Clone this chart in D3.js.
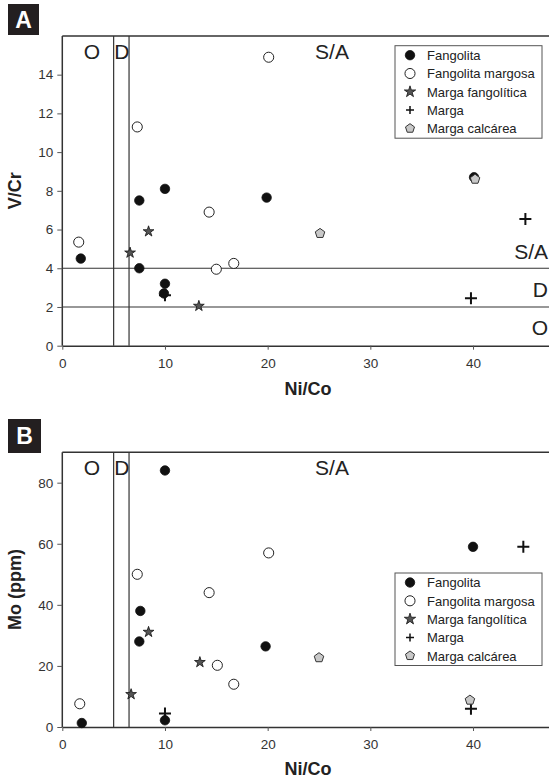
<!DOCTYPE html>
<html><head><meta charset="utf-8">
<script src="https://cdn.jsdelivr.net/npm/d3@7"></script>
<style>body{margin:0;background:#fff;} svg{display:block;font-family:"Liberation Sans",Arial,sans-serif;}</style>
</head><body>
<script>
// ---- Data ----
const seriesNames = ["Fangolita","Fangolita margosa","Marga fangolítica","Marga","Marga calcárea"];
const xTicks = [0,10,20,30,40];
const yTicksA = [0,2,4,6,8,10,12,14];
const yTicksB = [0,20,40,60,80];
const niCoLimits = [5,6.5];
const vCrLimits = [2,4];
// Panel A: Ni/Co vs V/Cr
const fangolitaA = [[1.8,4.5],[7.5,4.0],[7.5,7.5],[10.0,8.1],[10.0,3.2],[9.9,2.7],[19.9,7.65],[40.1,8.7]];
const margosaA   = [[1.6,5.35],[7.3,11.3],[20.1,14.9],[14.3,6.9],[15.0,3.95],[16.7,4.25]];
const fangoliticaA = [[6.6,4.8],[8.4,5.9],[13.3,2.05]];
const margaA     = [[10.0,2.6],[45.1,6.55],[39.8,2.45]];
const calcareaA  = [[25.1,5.8],[40.2,8.6]];
// Panel B: Ni/Co vs Mo (ppm)
const fangolitaB = [[1.9,1.3],[10.0,84],[7.6,38],[7.5,28],[10.0,2.2],[19.8,26.4],[40.0,59]];
const margosaB   = [[1.7,7.6],[7.3,50],[14.3,44],[20.1,57],[15.1,20.2],[16.7,14]];
const fangoliticaB = [[6.7,10.7],[8.4,31.1],[13.4,21.2]];
const margaB     = [[10.0,4.4],[44.9,59],[39.8,6.0]];
const calcareaB  = [[25.0,22.7],[39.7,8.8]];

const W=549,H=779;
const svg=d3.select("body").append("svg").attr("width",W).attr("height",H);

const plus = {draw(ctx,size){const r=Math.sqrt(size)/2;ctx.moveTo(-r,0);ctx.lineTo(r,0);ctx.moveTo(0,-r);ctx.lineTo(0,r);}};
const pentagon = {draw(ctx,size){const r=Math.sqrt(size)/2;for(let i=0;i<5;i++){const a=-Math.PI/2+i*2*Math.PI/5;const px=r*Math.cos(a),py=r*Math.sin(a);i?ctx.lineTo(px,py):ctx.moveTo(px,py);}ctx.closePath();}};

const styles = [
  {type:d3.symbolCircle,size:70,fill:"#111",stroke:"#111",sw:0.8},
  {type:d3.symbolCircle,size:80,fill:"#fff",stroke:"#222",sw:1},
  {type:d3.symbolStar,size:36,fill:"#555",stroke:"#111",sw:0.8},
  {type:plus,size:144,fill:"none",stroke:"#111",sw:2},
  {type:pentagon,size:100,fill:"#c8c8c8",stroke:"#333",sw:1}
];
const legendSizes=[70,80,40,64,90];

function panel(cfg){
  const x=d3.scaleLinear().domain([0,47.4]).range([62.3,549]);
  const y=d3.scaleLinear().domain(cfg.ydom).range(cfg.yrange);
  const g=svg.append("g");
  // label box
  g.append("rect").attr("x",cfg.box[0]).attr("y",cfg.box[1]).attr("width",cfg.box[2]).attr("height",cfg.box[3]).attr("fill","#231f20");
  g.append("text").attr("x",cfg.box[0]+cfg.box[2]/2).attr("y",cfg.box[1]+cfg.box[3]/2+8).attr("text-anchor","middle")
    .attr("fill","#fff").attr("font-weight","bold").attr("font-size",23).text(cfg.letter);
  // top border
  g.append("line").attr("x1",x(0)).attr("x2",W).attr("y1",y(cfg.ydom[1])).attr("y2",y(cfg.ydom[1])).attr("stroke","#333").attr("stroke-width",1.5);
  // axes
  const xa=g.append("g").attr("transform",`translate(0,${y(0)})`).call(d3.axisBottom(x).tickValues(xTicks).tickSize(4).tickPadding(8.5).tickSizeOuter(0));
  const ya=g.append("g").attr("transform",`translate(${x(0)},0)`).call(d3.axisLeft(y).tickValues(cfg.yticks).tickSize(5).tickPadding(4).tickSizeOuter(0));
  [xa,ya].forEach(a=>{a.select(".domain").attr("stroke","#333").attr("stroke-width",1.5);
    a.selectAll(".tick line").attr("stroke","#555");
    a.selectAll("text").attr("font-size",13.5).attr("fill","#333").attr("font-family","Liberation Sans, Arial, sans-serif");});
  ya.select(".domain").attr("d",`M0,${y(0)}V${y(cfg.ydom[1])}`);
  // limit lines
  niCoLimits.forEach(v=>g.append("line").attr("x1",x(v)).attr("x2",x(v)).attr("y1",y(0)).attr("y2",y(cfg.ydom[1])).attr("stroke","#333").attr("stroke-width",1.2));
  (cfg.hlines||[]).forEach(v=>g.append("line").attr("x1",x(0)).attr("x2",W).attr("y1",y(v)).attr("y2",y(v)).attr("stroke","#333").attr("stroke-width",1.2));
  // zone labels
  const zy=y(cfg.ydom[1])+23;
  const zt=(tx,ty,t,anchor)=>g.append("text").attr("x",tx).attr("y",ty).attr("text-anchor",anchor||"middle").attr("font-size",21).attr("fill","#222").text(t);
  zt((x(0)+x(5))/2+4,zy,"O");
  zt((x(5)+x(6.5))/2+0.5,zy,"D");
  zt(332,zy,"S/A");
  if(cfg.hlines){
    zt(548,y(4)-9,"S/A","end");
    zt(548,y(2)-9.5,"D","end");
    zt(548,y(0)-10.5,"O","end");
  }
  // axis titles
  g.append("text").attr("x",308).attr("y",cfg.xtitleY).attr("text-anchor","middle").attr("font-weight","bold").attr("font-size",18).attr("fill","#222").text("Ni/Co");
  g.append("text").attr("transform",`translate(21,${(y(0)+y(cfg.ydom[1]))/2}) rotate(-90)`).attr("text-anchor","middle").attr("font-weight","bold").attr("font-size",18).attr("fill","#222").text(cfg.ytitle);
  // points
  cfg.series.forEach((data,i)=>{
    const s=styles[i];
    g.append("g").selectAll("path").data(data).join("path")
      .attr("transform",d=>`translate(${x(d[0])},${y(d[1])})`)
      .attr("d",d3.symbol(s.type,s.size)).attr("fill",s.fill).attr("stroke",s.stroke).attr("stroke-width",s.sw);
  });
  // legend
  const L=cfg.legend;
  g.append("rect").attr("x",L[0]).attr("y",L[1]).attr("width",147).attr("height",92.5).attr("fill","#fff").attr("stroke","#555").attr("stroke-width",1);
  seriesNames.forEach((n,i)=>{
    const s=styles[i];const ly=L[1]+9.5+i*18.3;
    g.append("path").attr("transform",`translate(${L[0]+15},${ly})`).attr("d",d3.symbol(s.type,legendSizes[i]))
      .attr("fill",s.fill).attr("stroke",s.stroke).attr("stroke-width",i===3?1.5:s.sw);
    g.append("text").attr("x",L[0]+32).attr("y",ly+4.8).attr("font-size",13).attr("fill","#222").text(n);
  });
}

panel({letter:"A",box:[8,4,31,31],ydom:[0,16],yrange:[345.7,345.7-16*19.36],yticks:yTicksA,hlines:vCrLimits,
  xtitleY:395,ytitle:"V/Cr",legend:[395,45.7],
  series:[fangolitaA,margosaA,fangoliticaA,margaA,calcareaA]});
panel({letter:"B",box:[8,419,33,34],ydom:[0,90],yrange:[727,727-90*3.054],yticks:yTicksB,
  xtitleY:775,ytitle:"Mo (ppm)",legend:[395,573],
  series:[fangolitaB,margosaB,fangoliticaB,margaB,calcareaB]});
</script>
</body></html>
